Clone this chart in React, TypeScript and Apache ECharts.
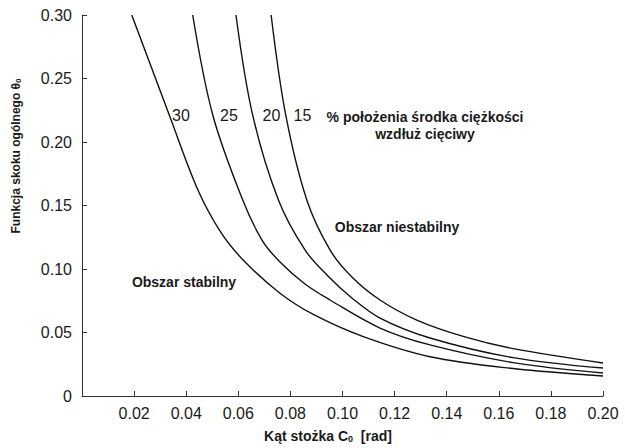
import React, { useEffect, useRef } from "react";
import * as echarts from "echarts";

const xTicks = { min: 0, max: 0.2, interval: 0.02 };
const yTicks = { min: 0, max: 0.3, interval: 0.05 };

const curve15: [number, number][] = [
  [0.0726, 0.3], [0.0782, 0.2213], [0.0863, 0.1543], [0.0952, 0.115], [0.1036, 0.0937],
  [0.1144, 0.0756], [0.1285, 0.0598], [0.147, 0.0465], [0.1655, 0.0373], [0.2, 0.026],
];
const curve20: [number, number][] = [
  [0.0591, 0.3], [0.0655, 0.2213], [0.0754, 0.1543], [0.0856, 0.115], [0.0944, 0.0945],
  [0.1036, 0.0772], [0.1144, 0.0614], [0.1336, 0.0457], [0.1655, 0.0302], [0.2, 0.022],
];
const curve25: [number, number][] = [
  [0.0425, 0.3], [0.0502, 0.2213], [0.0617, 0.1543], [0.0691, 0.1228], [0.076, 0.1055],
  [0.0856, 0.0882], [0.0952, 0.0756], [0.1144, 0.0535], [0.1336, 0.0402], [0.1655, 0.0263],
  [0.2, 0.0181],
];
const curve30: [number, number][] = [
  [0.0191, 0.3], [0.0335, 0.2213], [0.0445, 0.1622], [0.0537, 0.1276], [0.0626, 0.1055],
  [0.076, 0.0809], [0.0888, 0.0642], [0.108, 0.0467], [0.1336, 0.0309], [0.1655, 0.0216],
  [0.2, 0.0157],
];
const curveNames = ["15", "20", "25", "30"];
const curves = [curve15, curve20, curve25, curve30];

const FONT = "Liberation Sans, Arial, sans-serif";
const INK = "#1a1a1a";

export default function App() {
  const ref = useRef<HTMLDivElement>(null);
  useEffect(() => {
    if (!ref.current) return;
    const chart = echarts.init(ref.current, undefined, { renderer: "svg" });
    const axisCommon = {
      axisLine: { show: true, lineStyle: { color: "#333", width: 1 } },
      axisTick: { show: true, inside: true, length: 5, lineStyle: { color: "#333" } },
      splitLine: { show: false },
    };
    chart.setOption({
      animation: false,
      backgroundColor: "#fff",
      grid: { left: 82, right: 22, top: 15, bottom: 52, containLabel: false },
      xAxis: {
        type: "value",
        ...xTicks,
        ...axisCommon,
        axisLabel: {
          showMinLabel: false,
          margin: 9,
          fontSize: 16,
          color: INK,
          fontFamily: FONT,
          formatter: (v: number) => v.toFixed(2),
        },
      },
      yAxis: {
        type: "value",
        ...yTicks,
        ...axisCommon,
        axisLabel: {
          margin: 10,
          fontSize: 16,
          color: INK,
          fontFamily: FONT,
          formatter: (v: number) => (v === 0 ? "0" : v.toFixed(2)),
        },
      },
      series: curves.map((c, i) => ({
        type: "line",
        name: curveNames[i],
        data: c,
        smooth: 0.35,
        showSymbol: false,
        symbol: "none",
        lineStyle: { color: "#111", width: 1.4 },
        silent: true,
      })),
      graphic: [
        ...[
          { t: "30", x: 181 },
          { t: "25", x: 229 },
          { t: "20", x: 271.5 },
          { t: "15", x: 302.5 },
        ].map((o) => ({
          type: "text",
          x: o.x,
          y: 115,
          style: { text: o.t, fontSize: 16, fontFamily: FONT, fill: INK, align: "center", verticalAlign: "middle" },
        })),
        {
          type: "text",
          x: 425,
          y: 125,
          style: {
            text: "% położenia środka ciężkości\nwzdłuż cięciwy",
            fontSize: 14,
            fontWeight: "bold",
            fontFamily: FONT,
            fill: INK,
            align: "center",
            verticalAlign: "middle",
            lineHeight: 17,
          },
        },
        {
          type: "text",
          x: 397,
          y: 227,
          style: { text: "Obszar niestabilny", fontSize: 14, fontWeight: "bold", fontFamily: FONT, fill: INK, align: "center", verticalAlign: "middle" },
        },
        {
          type: "text",
          x: 184,
          y: 282,
          style: { text: "Obszar stabilny", fontSize: 14, fontWeight: "bold", fontFamily: FONT, fill: INK, align: "center", verticalAlign: "middle" },
        },
        {
          type: "text",
          x: 328,
          y: 436,
          style: {
            text: "{a|Kąt stożka C}{s|0}{a|  [rad]}",
            align: "center",
            verticalAlign: "middle",
            rich: {
              a: { fontSize: 14, fontWeight: "bold", fontFamily: FONT, fill: INK, color: INK },
              s: { fontSize: 9, fontWeight: "bold", fontFamily: FONT, fill: INK, color: INK, padding: [5, 0, 0, 0] },
            },
          },
        },
        {
          type: "text",
          x: 16,
          y: 156,
          rotation: Math.PI / 2,
          style: {
            text: "{a|Funkcja skoku ogólnego θ}{s|0}",
            align: "center",
            verticalAlign: "middle",
            rich: {
              a: { fontSize: 12, fontWeight: "bold", fontFamily: FONT, fill: INK, color: INK },
              s: { fontSize: 8, fontWeight: "bold", fontFamily: FONT, fill: INK, color: INK, padding: [5, 0, 0, 0] },
            },
          },
        },
      ],
    });
    return () => chart.dispose();
  }, []);
  return <div ref={ref} style={{ width: 625, height: 448, position: "absolute", left: 0, top: 0 }} />;
}
